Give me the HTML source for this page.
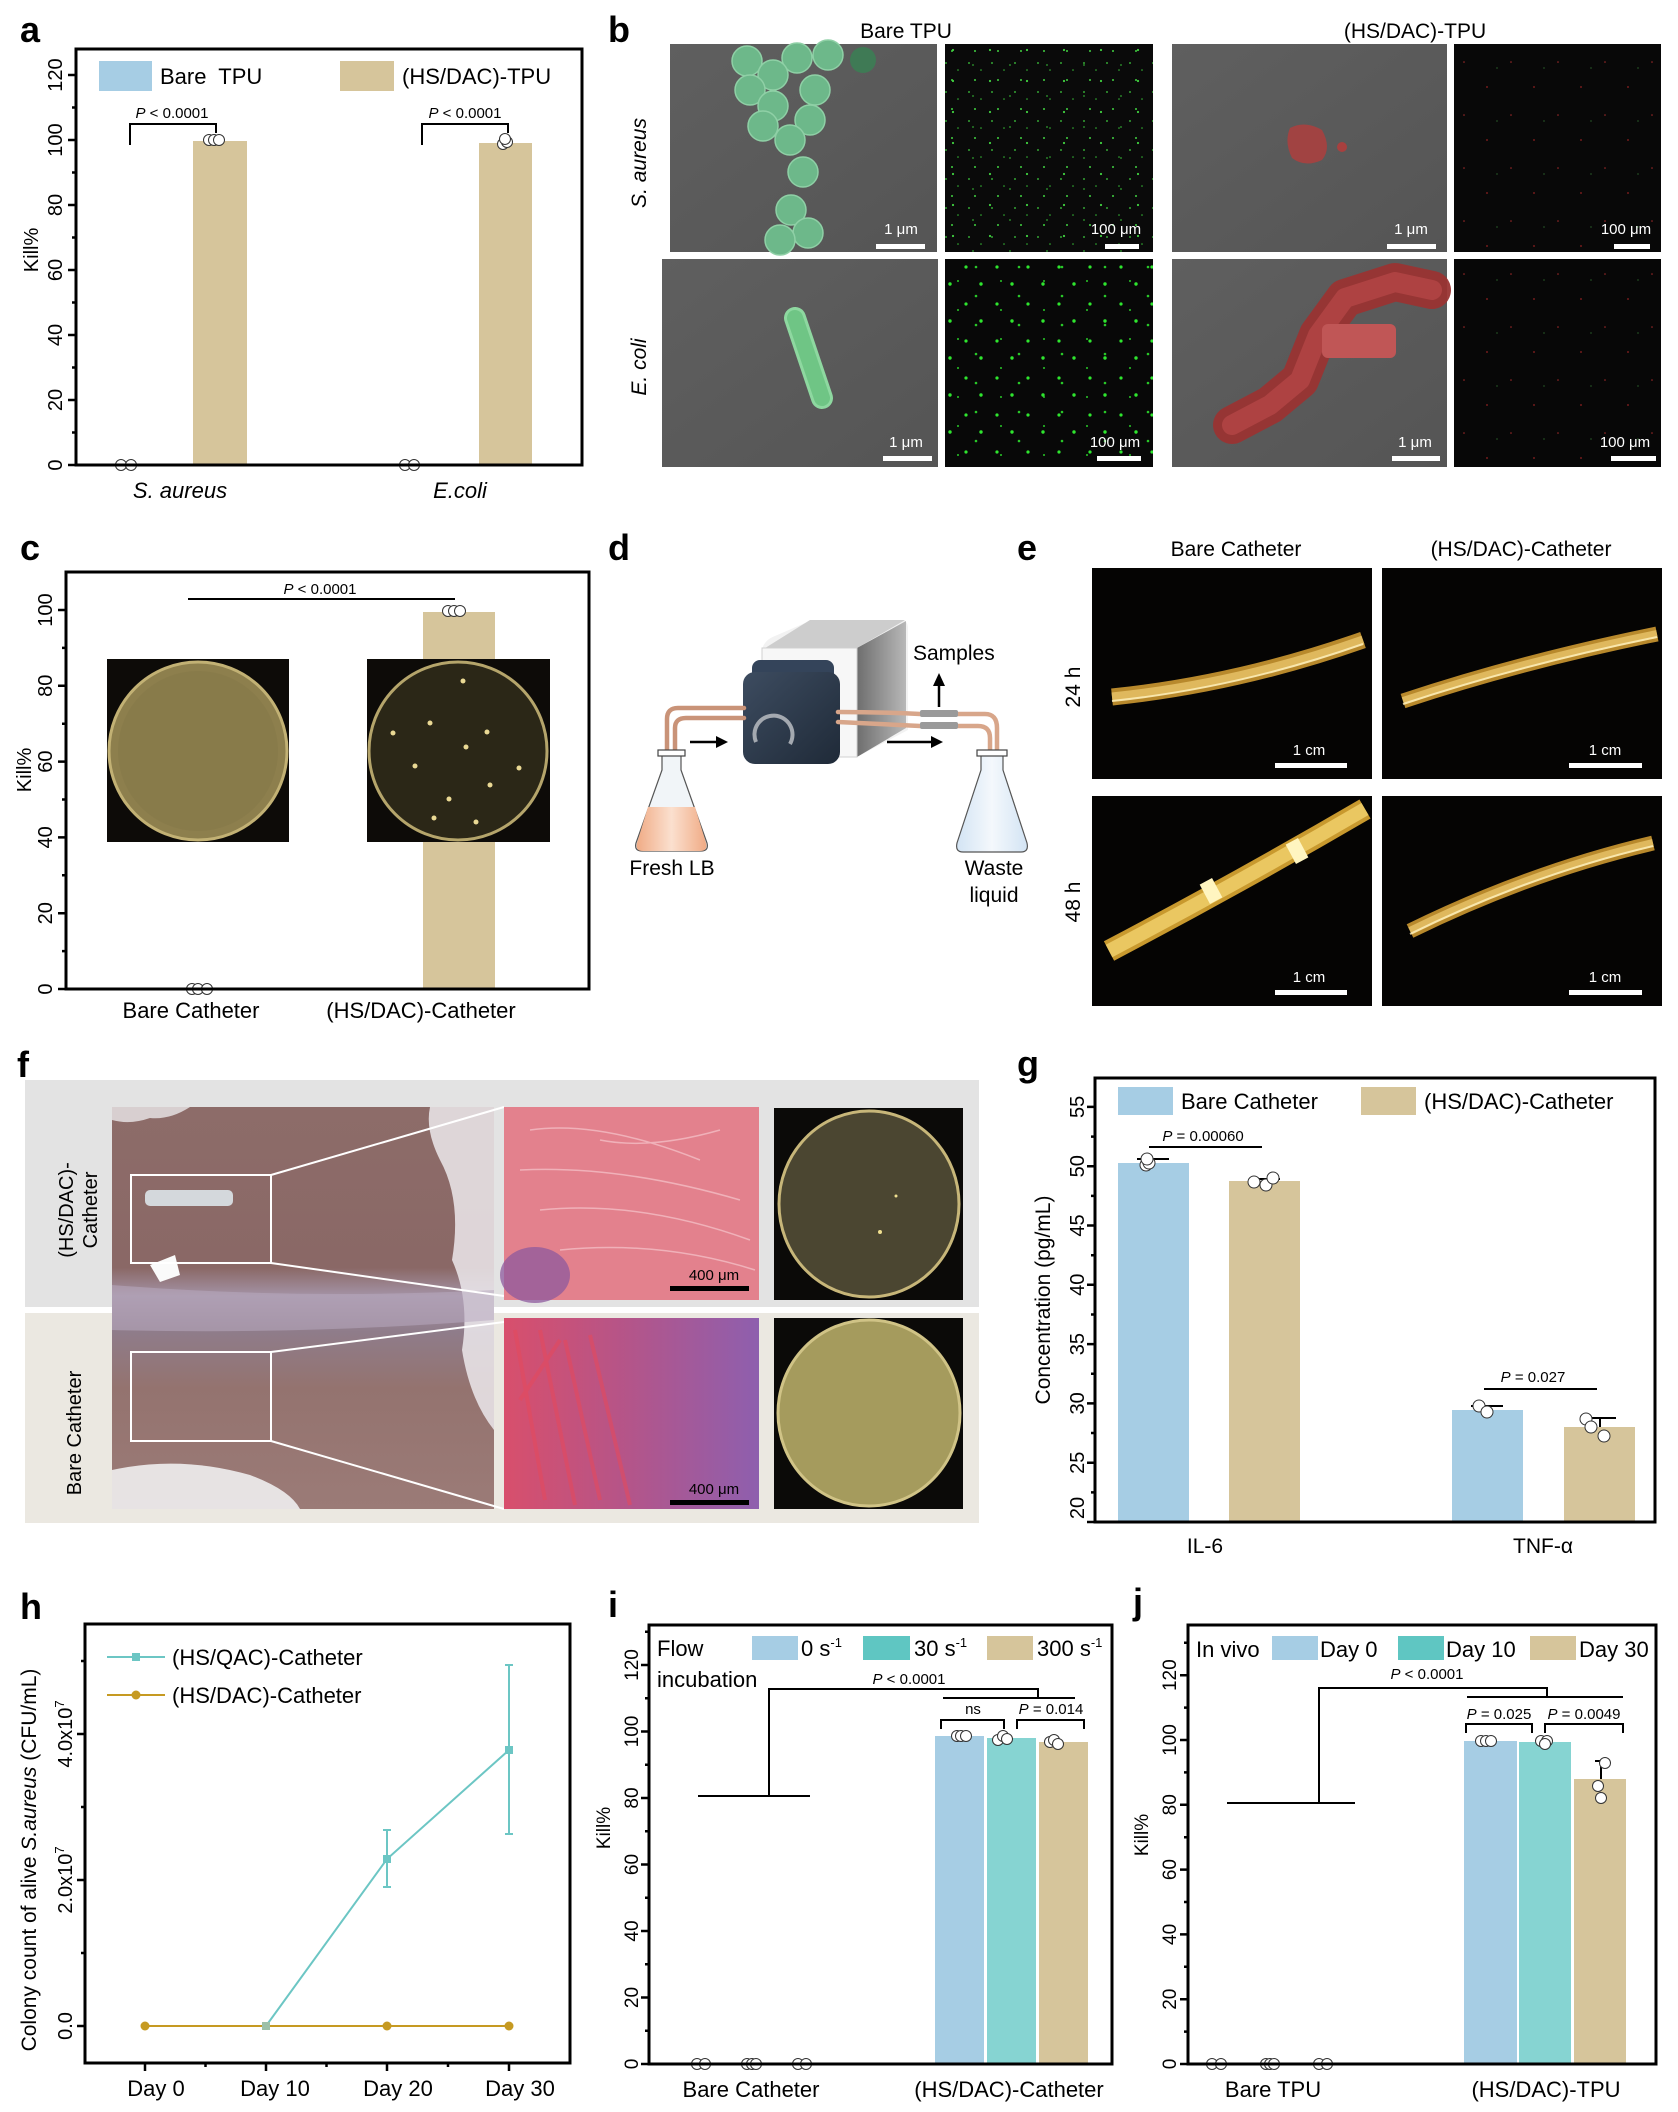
<!DOCTYPE html>
<html><head><meta charset="utf-8"><style>
html,body{margin:0;padding:0;background:#fff;}
svg{display:block;font-family:"Liberation Sans",Arial,sans-serif;}
</style></head><body>
<svg width="1678" height="2112" viewBox="0 0 1678 2112" xmlns="http://www.w3.org/2000/svg">
<defs>
<pattern id="gd1" width="23" height="29" patternUnits="userSpaceOnUse"><circle cx="3" cy="5" r="0.9" fill="#3fd03f"/><circle cx="15" cy="12" r="0.8" fill="#34b834"/><circle cx="9" cy="22" r="1" fill="#3fd03f"/></pattern>
<pattern id="gd1b" width="37" height="31" patternUnits="userSpaceOnUse"><circle cx="11" cy="3" r="0.9" fill="#2fa02f"/><circle cx="28" cy="19" r="1.1" fill="#3fd03f"/></pattern>
<pattern id="gd2" width="31" height="37" patternUnits="userSpaceOnUse"><circle cx="5" cy="8" r="1.6" fill="#2ee62e"/><circle cx="20" cy="25" r="1.7" fill="#2ee62e"/></pattern>
<pattern id="gd2b" width="43" height="29" patternUnits="userSpaceOnUse"><circle cx="30" cy="6" r="1.3" fill="#28c828"/><circle cx="12" cy="20" r="1" fill="#28c828"/></pattern>
<pattern id="rd" width="47" height="53" patternUnits="userSpaceOnUse"><circle cx="7" cy="9" r="0.8" fill="#a02828"/><circle cx="30" cy="34" r="0.9" fill="#902020"/><circle cx="40" cy="15" r="0.6" fill="#3a8a3a"/></pattern>
<linearGradient id="sem" x1="0" y1="0" x2="1" y2="1"><stop offset="0" stop-color="#5f5f5f"/><stop offset="1" stop-color="#555"/></linearGradient>
<linearGradient id="mouse" x1="0" y1="0" x2="0" y2="1"><stop offset="0" stop-color="#8d6c69"/><stop offset="0.4" stop-color="#8a6866"/><stop offset="0.47" stop-color="#a493a6"/><stop offset="0.56" stop-color="#8f7c8a"/><stop offset="0.7" stop-color="#94736f"/><stop offset="1" stop-color="#9b7b77"/></linearGradient>
<linearGradient id="he2" x1="0" y1="0" x2="1" y2="0"><stop offset="0" stop-color="#d84f6c"/><stop offset="0.5" stop-color="#b3558a"/><stop offset="1" stop-color="#8e5fae"/></linearGradient>
<linearGradient id="cube" x1="0" y1="0" x2="1" y2="0"><stop offset="0" stop-color="#6e6e6e"/><stop offset="1" stop-color="#b8b8b8"/></linearGradient>
<linearGradient id="head" x1="0" y1="0" x2="1" y2="1"><stop offset="0" stop-color="#3d4c60"/><stop offset="1" stop-color="#1f2a38"/></linearGradient>
<linearGradient id="lb" x1="0" y1="0" x2="1" y2="0"><stop offset="0" stop-color="#f0ab85"/><stop offset="0.5" stop-color="#fbe0cf"/><stop offset="1" stop-color="#f0ab85"/></linearGradient>
<linearGradient id="wl" x1="0" y1="0" x2="1" y2="0"><stop offset="0" stop-color="#d3e4f4"/><stop offset="0.5" stop-color="#f4f8fc"/><stop offset="1" stop-color="#d3e4f4"/></linearGradient>
</defs>

<g font-weight="bold" font-size="36" fill="#000">
<text x="20" y="42">a</text><text x="608" y="42">b</text>
<text x="20" y="560">c</text><text x="608" y="560">d</text><text x="1017" y="560">e</text>
<text x="17" y="1077">f</text><text x="1017" y="1076">g</text>
<text x="20" y="1619">h</text><text x="608" y="1617">i</text><text x="1133" y="1614">j</text>
</g>

<!-- ============ PANEL A ============ -->
<g>
<rect x="99" y="61" width="53" height="30" fill="#a6cde4"/>
<text x="160" y="84" font-size="22">Bare&#160; TPU</text>
<rect x="340" y="61" width="54" height="30" fill="#d6c59b"/>
<text x="402" y="84" font-size="22">(HS/DAC)-TPU</text>
<rect x="193" y="141" width="54" height="324" fill="#d6c59b"/>
<rect x="479" y="143" width="53" height="322" fill="#d6c59b"/>
<g stroke="#000" stroke-width="2" fill="none">
<path d="M130 145 V124 H216 V133"/><path d="M422 145 V124 H508 V133"/>
</g>
<g font-size="15" text-anchor="middle"><text x="172" y="118"><tspan font-style="italic">P</tspan> &lt; 0.0001</text><text x="465" y="118"><tspan font-style="italic">P</tspan> &lt; 0.0001</text></g>
<g fill="#fff" stroke="#333" stroke-width="1">
<circle cx="209" cy="140" r="5.5"/><circle cx="214" cy="140" r="5.5"/><circle cx="219" cy="140" r="5.5"/>
<circle cx="503" cy="144" r="5.5"/><circle cx="507" cy="142" r="5.5"/><circle cx="505" cy="139" r="5.5"/>
<circle cx="121" cy="465" r="5.5"/><circle cx="131" cy="465" r="5.5"/>
<circle cx="405" cy="465" r="5.5"/><circle cx="414" cy="465" r="5.5"/>
</g>
<rect x="76" y="49" width="506" height="416" fill="none" stroke="#000" stroke-width="3"/>
<g stroke="#000" stroke-width="2.5">
<path d="M68 465H76M68 400H76M68 335H76M68 270H76M68 205H76M68 140H76M68 75H76"/>
<path d="M72 432.5H76M72 367.5H76M72 302.5H76M72 237.5H76M72 172.5H76M72 107.5H76"/>
</g>
<g font-size="20" text-anchor="middle">
<text transform="translate(62,465) rotate(-90)">0</text><text transform="translate(62,400) rotate(-90)">20</text><text transform="translate(62,335) rotate(-90)">40</text><text transform="translate(62,270) rotate(-90)">60</text><text transform="translate(62,205) rotate(-90)">80</text><text transform="translate(62,140) rotate(-90)">100</text><text transform="translate(62,75) rotate(-90)">120</text>
<text transform="translate(38,250) rotate(-90)">Kill%</text>
</g>
<g font-size="22" text-anchor="middle" font-style="italic"><text x="180" y="498">S. aureus</text><text x="460" y="498">E.coli</text></g>
</g>

<!-- ============ PANEL B ============ -->
<g>
<g font-size="21" text-anchor="middle"><text x="906" y="38">Bare TPU</text><text x="1415" y="38">(HS/DAC)-TPU</text></g>
<g font-size="21" text-anchor="middle" font-style="italic"><text transform="translate(646,163) rotate(-90)">S. aureus</text><text transform="translate(646,367) rotate(-90)">E. coli</text></g>
<!-- top row -->
<rect x="670" y="44" width="267" height="208" fill="url(#sem)"/>
<g fill="#6db88a" stroke="#8fd0a6" stroke-width="1.5">
<circle cx="863" cy="60" r="13" fill="#3f7a55" stroke="none"/>
<circle cx="828" cy="55" r="15"/><circle cx="797" cy="58" r="15"/><circle cx="747" cy="61" r="15"/><circle cx="773" cy="75" r="15"/>
<circle cx="750" cy="90" r="15"/><circle cx="815" cy="90" r="15"/><circle cx="773" cy="106" r="15"/><circle cx="810" cy="120" r="15"/>
<circle cx="763" cy="126" r="15"/><circle cx="790" cy="140" r="15"/><circle cx="803" cy="172" r="15"/><circle cx="791" cy="210" r="15"/>
<circle cx="808" cy="233" r="15"/><circle cx="780" cy="240" r="15"/>
</g>
<rect x="945" y="44" width="208" height="208" fill="#0a0a0a"/>
<rect x="945" y="44" width="208" height="208" fill="url(#gd1)"/>
<rect x="945" y="44" width="208" height="208" fill="url(#gd1b)"/>
<rect x="1172" y="44" width="275" height="208" fill="url(#sem)"/>
<path d="M1290 128 Q1305 120 1322 130 Q1332 148 1322 160 Q1305 168 1292 158 Q1284 142 1290 128Z" fill="#a8403f" opacity="0.9"/>
<circle cx="1342" cy="147" r="5" fill="#a8403f"/>
<rect x="1454" y="44" width="207" height="208" fill="#080808"/>
<rect x="1454" y="44" width="207" height="208" fill="url(#rd)"/>
<!-- bottom row -->
<rect x="662" y="259" width="276" height="208" fill="url(#sem)"/>
<path d="M795 318 L822 398" stroke="#8ed8a0" stroke-width="22" stroke-linecap="round"/>
<path d="M795 318 L822 398" stroke="#6fc585" stroke-width="16" stroke-linecap="round"/>
<rect x="945" y="259" width="208" height="208" fill="#080808"/>
<rect x="945" y="259" width="208" height="208" fill="url(#gd2)"/>
<rect x="945" y="259" width="208" height="208" fill="url(#gd2b)"/>
<rect x="1172" y="259" width="275" height="208" fill="url(#sem)"/>
<path d="M1232 425 L1270 405 L1300 380 L1318 335 L1345 298 L1395 282 L1432 290" stroke="#9a3433" stroke-width="38" fill="none" stroke-linecap="round" stroke-linejoin="round" opacity="0.95"/>
<path d="M1232 425 L1270 405 L1300 380 L1318 335 L1345 298 L1395 282 L1432 290" stroke="#b84848" stroke-width="20" fill="none" stroke-linecap="round" stroke-linejoin="round" opacity="0.7"/>
<rect x="1322" y="324" width="74" height="34" rx="6" fill="#c05656"/>
<rect x="1454" y="259" width="207" height="208" fill="#070707"/>
<rect x="1454" y="259" width="207" height="208" fill="url(#rd)"/>
<!-- scale bars -->
<g fill="#fff"><rect x="876" y="244" width="49" height="5"/><rect x="1105" y="244" width="34" height="5"/><rect x="1387" y="244" width="49" height="5"/><rect x="1614" y="244" width="36" height="5"/>
<rect x="883" y="456" width="49" height="5"/><rect x="1097" y="456" width="44" height="5"/><rect x="1392" y="456" width="48" height="5"/><rect x="1611" y="456" width="45" height="5"/></g>
<g fill="#fff" font-size="15" text-anchor="middle">
<text x="901" y="234">1 μm</text><text x="1116" y="234">100 μm</text><text x="1411" y="234">1 μm</text><text x="1626" y="234">100 μm</text>
<text x="906" y="447">1 μm</text><text x="1115" y="447">100 μm</text><text x="1415" y="447">1 μm</text><text x="1625" y="447">100 μm</text>
</g>
</g>

<!-- ============ PANEL C ============ -->
<g>
<rect x="423" y="612" width="72" height="377" fill="#d6c59b"/>
<rect x="107" y="659" width="182" height="183" fill="#0d0b08"/>
<ellipse cx="198" cy="751" rx="89" ry="89" fill="#8d7f4d" stroke="#c2b174" stroke-width="3"/>
<ellipse cx="198" cy="751" rx="80" ry="80" fill="#86784a" opacity="0.6"/>
<rect x="367" y="659" width="183" height="183" fill="#0d0b08"/>
<ellipse cx="458" cy="751" rx="89" ry="89" fill="#2b2717" stroke="#b5a56b" stroke-width="3"/>
<g fill="#ead994"><circle cx="463" cy="681" r="2.5"/><circle cx="430" cy="723" r="2.5"/><circle cx="393" cy="733" r="2.5"/><circle cx="487" cy="732" r="2.5"/><circle cx="466" cy="747" r="2.5"/><circle cx="415" cy="766" r="2.5"/><circle cx="519" cy="768" r="2.5"/><circle cx="490" cy="785" r="2.5"/><circle cx="449" cy="799" r="2.5"/><circle cx="434" cy="818" r="2.5"/><circle cx="476" cy="822" r="2.5"/></g>
<path d="M188 599H455" stroke="#000" stroke-width="2"/>
<text x="320" y="594" font-size="15" text-anchor="middle"><tspan font-style="italic">P</tspan> &lt; 0.0001</text>
<g fill="#fff" stroke="#333" stroke-width="1">
<circle cx="448" cy="611" r="5.5"/><circle cx="454" cy="611" r="5.5"/><circle cx="460" cy="611" r="5.5"/>
<circle cx="192" cy="989" r="5.5"/><circle cx="198" cy="989" r="5.5"/><circle cx="207" cy="989" r="5.5"/>
</g>
<rect x="66" y="572" width="523" height="417" fill="none" stroke="#000" stroke-width="3"/>
<g stroke="#000" stroke-width="2.5">
<path d="M58 989H66M58 913.2H66M58 837.4H66M58 761.6H66M58 685.8H66M58 610H66"/>
<path d="M62 951.1H66M62 875.3H66M62 799.5H66M62 723.7H66M62 647.9H66"/>
</g>
<g font-size="20" text-anchor="middle">
<text transform="translate(52,989) rotate(-90)">0</text><text transform="translate(52,913.2) rotate(-90)">20</text><text transform="translate(52,837.4) rotate(-90)">40</text><text transform="translate(52,761.6) rotate(-90)">60</text><text transform="translate(52,685.8) rotate(-90)">80</text><text transform="translate(52,610) rotate(-90)">100</text>
<text transform="translate(31,770) rotate(-90)">Kill%</text>
</g>
<g font-size="22" text-anchor="middle"><text x="191" y="1018">Bare Catheter</text><text x="421" y="1018">(HS/DAC)-Catheter</text></g>
</g>

<!-- ============ PANEL D ============ -->
<g>
<path d="M762 650 Q764 640 775 636 L812 620 H900 Q908 620 908 628 V730 L857 757 H770 Q762 757 762 750Z" fill="#f2f2f2"/>
<path d="M762 650 L810 620 H905 L857 648Z" fill="#cdcdcd"/>
<path d="M857 648 L906 621 V728 L857 757Z" fill="url(#cube)"/>
<path d="M762 648 H857 V757 H762Z" fill="#f7f7f7" stroke="#d0d0d0" stroke-width="1"/>
<rect x="752" y="660" width="82" height="30" rx="8" fill="#34445a"/>
<rect x="743" y="672" width="97" height="92" rx="12" fill="url(#head)"/>
<path d="M756 742 A19 19 0 1 1 790 744" stroke="#a4a9b0" stroke-width="4" fill="none"/>
<g fill="none" stroke-width="4.5" stroke-linecap="round">
<path d="M667 820 V719 Q667 708 678 708 H744" stroke="#c99378"/>
<path d="M675 820 V728 Q675 718 686 718 H744" stroke="#c99378"/>
<path d="M838 712 Q880 712 920 714 H985 Q997 714 997 728 V778" stroke="#d8a68a"/>
<path d="M838 722 Q880 724 920 726 H978 Q990 726 990 738 V778" stroke="#d8a68a"/>
</g>
<g fill="#9a9a9a"><rect x="920" y="710" width="38" height="7" rx="2"/><rect x="920" y="722" width="38" height="7" rx="2"/></g>
<path d="M662 755 V770 L636 843 Q634 851 642 851 H701 Q709 851 707 843 L681 770 V755Z" fill="#f1f5f8" stroke="#555" stroke-width="1.2"/>
<path d="M648 807 H695 L706 843 Q708 851 700 851 H643 Q635 851 637 843Z" fill="url(#lb)"/>
<rect x="658" y="750" width="27" height="6" fill="#fff" stroke="#444" stroke-width="1.2"/>
<path d="M981 755 V770 L957 843 Q955 852 963 852 H1021 Q1029 852 1027 843 L1003 770 V755Z" fill="url(#wl)" stroke="#555" stroke-width="1.2"/>
<rect x="977" y="750" width="30" height="6" fill="#fff" stroke="#444" stroke-width="1.2"/>
<g stroke="#000" stroke-width="2.5"><path d="M690 742H718"/><path d="M887 742H932"/><path d="M939 707V684"/></g>
<g fill="#000"><path d="M728 742L716 736V748Z"/><path d="M943 742L931 736V748Z"/><path d="M939 673L933 686H945Z"/></g>
<g font-size="21"><text x="913" y="660">Samples</text>
<text x="672" y="875" text-anchor="middle">Fresh LB</text><text x="994" y="875" text-anchor="middle">Waste</text><text x="994" y="902" text-anchor="middle">liquid</text></g>
</g>

<!-- ============ PANEL E ============ -->
<g>
<g font-size="21" text-anchor="middle"><text x="1236" y="556">Bare Catheter</text><text x="1521" y="556">(HS/DAC)-Catheter</text>
<text transform="translate(1080,687) rotate(-90)">24 h</text><text transform="translate(1080,902) rotate(-90)">48 h</text></g>
<rect x="1092" y="568" width="280" height="211" fill="#050403"/>
<rect x="1382" y="568" width="280" height="211" fill="#050403"/>
<rect x="1092" y="796" width="280" height="210" fill="#050403"/>
<rect x="1382" y="796" width="280" height="210" fill="#050403"/>
<g fill="none" stroke-linecap="butt">
<path d="M1112 697 Q1238 684 1363 640" stroke="#b8892c" stroke-width="17"/>
<path d="M1112 697 Q1238 684 1363 640" stroke="#e8c46a" stroke-width="9" opacity="0.8"/>
<path d="M1112 701 Q1238 688 1363 644" stroke="#fff2c0" stroke-width="2" opacity="0.8"/>
<path d="M1403 701 Q1520 662 1657 634" stroke="#b8892c" stroke-width="15"/>
<path d="M1403 701 Q1520 662 1657 634" stroke="#e8c46a" stroke-width="8" opacity="0.8"/>
<path d="M1403 704 Q1520 665 1657 637" stroke="#fff2c0" stroke-width="2" opacity="0.8"/>
<path d="M1109 951 Q1240 882 1365 809" stroke="#c8992e" stroke-width="22"/>
<path d="M1109 951 Q1240 882 1365 809" stroke="#f0cf6a" stroke-width="14" opacity="0.85"/>
<path d="M1410 931 Q1530 872 1653 843" stroke="#b8892c" stroke-width="15"/>
<path d="M1410 931 Q1530 872 1653 843" stroke="#e8c46a" stroke-width="8" opacity="0.8"/>
<path d="M1410 934 Q1530 875 1653 846" stroke="#fff2c0" stroke-width="2" opacity="0.8"/>
</g>
<g fill="#fff5c0"><rect x="1204" y="880" width="14" height="22" transform="rotate(-28 1211 891)"/><rect x="1290" y="840" width="14" height="22" transform="rotate(-28 1297 851)"/></g>
<g fill="#fff"><rect x="1275" y="763" width="72" height="5"/><rect x="1569" y="763" width="73" height="5"/><rect x="1275" y="990" width="72" height="5"/><rect x="1569" y="990" width="73" height="5"/></g>
<g fill="#fff" font-size="15" text-anchor="middle"><text x="1309" y="755">1 cm</text><text x="1605" y="755">1 cm</text><text x="1309" y="982">1 cm</text><text x="1605" y="982">1 cm</text></g>
</g>

<!-- ============ PANEL F ============ -->
<g>
<rect x="25" y="1080" width="954" height="227" fill="#e3e3e3"/>
<rect x="25" y="1313" width="954" height="210" fill="#ebe8e1"/>
<rect x="112" y="1107" width="382" height="402" fill="url(#mouse)"/>
<path d="M430 1107 H494 V1430 Q470 1400 462 1350 Q470 1300 452 1260 Q462 1200 440 1160 Q425 1130 430 1107Z" fill="#ece9ec" opacity="0.85"/>
<path d="M112 1107 H190 Q170 1120 150 1118 Q130 1125 112 1120Z" fill="#ebe8ea" opacity="0.8"/>
<path d="M112 1470 Q180 1455 250 1475 Q290 1490 300 1509 H112Z" fill="#f0eef0" opacity="0.9"/>
<path d="M112 1285 Q300 1300 494 1290 V1320 Q300 1335 112 1330Z" fill="#b8aac0" opacity="0.55"/>
<rect x="145" y="1190" width="88" height="16" rx="5" fill="#d4d8dc"/>
<path d="M150 1265 L175 1255 L180 1275 L160 1282Z" fill="#fafafa"/>
<g fill="none" stroke="#fff" stroke-width="2">
<rect x="131" y="1175" width="140" height="88"/><rect x="131" y="1352" width="140" height="89"/>
<path d="M271 1175 L504 1107M271 1263 L504 1296M271 1352 L504 1322M271 1441 L504 1509"/>
</g>
<rect x="504" y="1107" width="255" height="193" fill="#e3818d"/>
<g fill="none" stroke="#f5c6cc" stroke-width="1.5" opacity="0.7"><path d="M530 1130 Q600 1120 700 1160M520 1170 Q620 1165 740 1200M540 1210 Q640 1200 750 1240M560 1250 Q660 1240 755 1270M600 1140 Q650 1150 720 1130"/></g>
<ellipse cx="535" cy="1275" rx="35" ry="28" fill="#8d5a9e" opacity="0.75"/>
<rect x="504" y="1318" width="255" height="191" fill="url(#he2)"/>
<g fill="none" stroke="#e24a5e" stroke-width="4" opacity="0.6"><path d="M515 1330 L545 1500M540 1330 L575 1505M565 1340 L600 1500M590 1335 L630 1505M520 1400 L560 1340"/></g>
<g fill="#0b0a08"><rect x="774" y="1108" width="189" height="192"/><rect x="774" y="1318" width="189" height="191"/></g>
<ellipse cx="869" cy="1204" rx="90" ry="93" fill="#4b4631" stroke="#c7b679" stroke-width="3"/>
<ellipse cx="869" cy="1413" rx="91" ry="93" fill="#a59b5d" stroke="#d0c386" stroke-width="3"/>
<circle cx="880" cy="1232" r="2" fill="#f0e090"/><circle cx="896" cy="1196" r="1.5" fill="#f0e090"/>
<g fill="#000"><rect x="670" y="1286" width="79" height="5"/><rect x="670" y="1500" width="79" height="5"/></g>
<g fill="#000" font-size="15" text-anchor="middle"><text x="714" y="1280">400 μm</text><text x="714" y="1494">400 μm</text></g>
<g font-size="20" text-anchor="middle"><text transform="translate(73,1210) rotate(-90)">(HS/DAC)-</text><text transform="translate(97,1210) rotate(-90)">Catheter</text><text transform="translate(81,1433) rotate(-90)">Bare Catheter</text></g>
</g>

<!-- ============ PANEL G ============ -->
<g>
<rect x="1118" y="1087" width="55" height="28" fill="#a6cde4"/>
<text x="1181" y="1109" font-size="22">Bare Catheter</text>
<rect x="1361" y="1087" width="55" height="28" fill="#d6c59b"/>
<text x="1424" y="1109" font-size="22">(HS/DAC)-Catheter</text>
<rect x="1118" y="1163" width="71" height="359" fill="#a6cde4"/>
<rect x="1229" y="1181" width="71" height="341" fill="#d6c59b"/>
<rect x="1452" y="1410" width="71" height="112" fill="#a6cde4"/>
<rect x="1564" y="1427" width="71" height="95" fill="#d6c59b"/>
<g stroke="#000" stroke-width="2" fill="none">
<path d="M1153 1163V1159M1137 1159H1169"/><path d="M1264 1181V1179M1250 1179H1280"/>
<path d="M1487 1410V1406M1471 1406H1503"/><path d="M1600 1427V1418M1586 1418H1616"/>
<path d="M1149 1147H1262"/><path d="M1484 1389H1597"/>
</g>
<g font-size="15" text-anchor="middle"><text x="1203" y="1141"><tspan font-style="italic">P</tspan> = 0.00060</text><text x="1533" y="1382"><tspan font-style="italic">P</tspan> = 0.027</text></g>
<g fill="#fff" stroke="#333" stroke-width="1">
<circle cx="1146" cy="1165" r="6"/><circle cx="1149" cy="1163" r="6"/><circle cx="1147" cy="1159" r="6"/>
<circle cx="1254" cy="1182" r="6"/><circle cx="1266" cy="1185" r="6"/><circle cx="1273" cy="1178" r="6"/>
<circle cx="1479" cy="1406" r="6"/><circle cx="1487" cy="1412" r="6"/>
<circle cx="1586" cy="1419" r="6"/><circle cx="1591" cy="1427" r="6"/><circle cx="1604" cy="1436" r="6"/>
</g>
<rect x="1095" y="1078" width="560" height="444" fill="none" stroke="#000" stroke-width="3"/>
<g stroke="#000" stroke-width="2.5">
<path d="M1087 1522H1095M1087 1462.7H1095M1087 1403.4H1095M1087 1344.1H1095M1087 1284.8H1095M1087 1225.5H1095M1087 1166.2H1095M1087 1106.9H1095"/>
<path d="M1091 1492.4H1095M1091 1433H1095M1091 1373.8H1095M1091 1314.5H1095M1091 1255.2H1095M1091 1195.9H1095M1091 1136.6H1095"/>
</g>
<g font-size="20" text-anchor="middle">
<text transform="translate(1084,1508) rotate(-90)">20</text><text transform="translate(1084,1462.7) rotate(-90)">25</text><text transform="translate(1084,1403.4) rotate(-90)">30</text><text transform="translate(1084,1344.1) rotate(-90)">35</text><text transform="translate(1084,1284.8) rotate(-90)">40</text><text transform="translate(1084,1225.5) rotate(-90)">45</text><text transform="translate(1084,1166.2) rotate(-90)">50</text><text transform="translate(1084,1106.9) rotate(-90)">55</text>
<text transform="translate(1050,1300) rotate(-90)" font-size="21">Concentration (pg/mL)</text>
</g>
<g font-size="21" text-anchor="middle"><text x="1205" y="1553">IL-6</text><text x="1543" y="1553">TNF-α</text></g>
</g>

<!-- ============ PANEL H ============ -->
<g>
<rect x="85" y="1624" width="485" height="439" fill="none" stroke="#000" stroke-width="3"/>
<g stroke="#000" stroke-width="2.5">
<path d="M77 2026H85M77 1880H85M77 1734H85"/><path d="M81 1953H85M81 1807H85M81 1661H85"/>
<path d="M145 2063V2071M266 2063V2071M387 2063V2071M509 2063V2071"/>
<path d="M205.5 2063V2067M326.5 2063V2067M448 2063V2067"/>
</g>
<g font-size="20" text-anchor="middle">
<text transform="translate(72,2026) rotate(-90)">0.0</text>
<text transform="translate(72,1880) rotate(-90)">2.0x10<tspan font-size="13" dy="-8">7</tspan></text>
<text transform="translate(72,1734) rotate(-90)">4.0x10<tspan font-size="13" dy="-8">7</tspan></text>
<text transform="translate(36,1860) rotate(-90)" font-size="21">Colony count of alive <tspan font-style="italic">S.aureus</tspan> (CFU/mL)</text>
</g>
<g stroke="#6cc6c4" stroke-width="2" fill="none">
<path d="M145 2026L266 2026L387 1859L509 1750"/>
<path d="M387 1830V1887M383 1830H391M383 1887H391"/>
<path d="M509 1665V1834M505 1665H513M505 1834H513"/>
<path d="M107 1657H165"/>
</g>
<g fill="#6cc6c4"><rect x="383" y="1855" width="8" height="8"/><rect x="505" y="1746" width="8" height="8"/><rect x="262" y="2022" width="8" height="8"/><rect x="132" y="1653" width="8" height="8"/></g>
<g stroke="#c69a22" stroke-width="2"><path d="M145 2026H509"/><path d="M107 1695H165"/></g>
<g fill="#c69a22"><circle cx="145" cy="2026" r="4.5"/><circle cx="387" cy="2026" r="4.5"/><circle cx="509" cy="2026" r="4.5"/><circle cx="136" cy="1695" r="4.5"/></g>
<rect x="262" y="2022" width="8" height="8" fill="#9cc0a8"/>
<g font-size="22"><text x="172" y="1665">(HS/QAC)-Catheter</text><text x="172" y="1703">(HS/DAC)-Catheter</text></g>
<g font-size="22" text-anchor="middle"><text x="156" y="2096">Day 0</text><text x="275" y="2096">Day 10</text><text x="398" y="2096">Day 20</text><text x="520" y="2096">Day 30</text></g>
</g>

<!-- ============ PANEL I ============ -->
<g>
<text x="657" y="1656" font-size="22">Flow</text><text x="657" y="1687" font-size="22">incubation</text>
<rect x="752" y="1636" width="46" height="24" fill="#a6cde4"/><text x="801" y="1656" font-size="22">0 s<tspan font-size="13" dy="-9">-1</tspan></text>
<rect x="863" y="1636" width="47" height="24" fill="#5fc6c2"/><text x="914" y="1656" font-size="22">30 s<tspan font-size="13" dy="-9">-1</tspan></text>
<rect x="987" y="1636" width="46" height="24" fill="#d6c59b"/><text x="1037" y="1656" font-size="22">300 s<tspan font-size="13" dy="-9">-1</tspan></text>
<rect x="935" y="1736" width="49" height="328" fill="#a6cde4"/>
<rect x="987" y="1738" width="49" height="326" fill="#86d4d2"/>
<rect x="1039" y="1742" width="49" height="322" fill="#d6c59b"/>
<g stroke="#000" stroke-width="2" fill="none">
<path d="M698 1796H810M769 1796V1689H1038V1698M943 1698H1075"/>
<path d="M941 1729V1720H1004V1729"/><path d="M1017 1729V1720H1084V1729"/>
</g>
<g font-size="15" text-anchor="middle"><text x="909" y="1684"><tspan font-style="italic">P</tspan> &lt; 0.0001</text><text x="973" y="1714">ns</text><text x="1051" y="1714"><tspan font-style="italic">P</tspan> = 0.014</text></g>
<g fill="#fff" stroke="#333" stroke-width="1">
<circle cx="957" cy="1736" r="5.5"/><circle cx="961" cy="1736" r="5.5"/><circle cx="966" cy="1736" r="5.5"/>
<circle cx="998" cy="1740" r="5.5"/><circle cx="1003" cy="1736" r="5.5"/><circle cx="1007" cy="1739" r="5.5"/>
<circle cx="1050" cy="1742" r="5.5"/><circle cx="1054" cy="1740" r="5.5"/><circle cx="1058" cy="1744" r="5.5"/>
<circle cx="697" cy="2064" r="5.5"/><circle cx="705" cy="2064" r="5.5"/><circle cx="747" cy="2064" r="5.5"/><circle cx="752" cy="2064" r="5.5"/><circle cx="756" cy="2064" r="5.5"/><circle cx="798" cy="2064" r="5.5"/><circle cx="806" cy="2064" r="5.5"/>
</g>
<rect x="649" y="1625" width="463" height="439" fill="none" stroke="#000" stroke-width="3"/>
<g stroke="#000" stroke-width="2.5">
<path d="M641 2064H649M641 1997.5H649M641 1931H649M641 1864.5H649M641 1798H649M641 1731.5H649M641 1665H649"/>
<path d="M645 2030.75H649M645 1964.25H649M645 1897.75H649M645 1831.25H649M645 1764.75H649M645 1698.25H649M645 1631.75H649"/>
</g>
<g font-size="19" text-anchor="middle">
<text transform="translate(638,2064) rotate(-90)">0</text><text transform="translate(638,1997.5) rotate(-90)">20</text><text transform="translate(638,1931) rotate(-90)">40</text><text transform="translate(638,1864.5) rotate(-90)">60</text><text transform="translate(638,1798) rotate(-90)">80</text><text transform="translate(638,1731.5) rotate(-90)">100</text><text transform="translate(638,1665) rotate(-90)">120</text>
<text transform="translate(610,1828) rotate(-90)">Kill%</text>
</g>
<g font-size="22" text-anchor="middle"><text x="751" y="2097">Bare Catheter</text><text x="1009" y="2097">(HS/DAC)-Catheter</text></g>
</g>

<!-- ============ PANEL J ============ -->
<g>
<text x="1196" y="1657" font-size="22">In vivo</text>
<rect x="1272" y="1636" width="46" height="24" fill="#a6cde4"/><text x="1320" y="1657" font-size="22">Day 0</text>
<rect x="1398" y="1636" width="46" height="24" fill="#5fc6c2"/><text x="1446" y="1657" font-size="22">Day 10</text>
<rect x="1530" y="1636" width="46" height="24" fill="#d6c59b"/><text x="1579" y="1657" font-size="22">Day 30</text>
<rect x="1464" y="1741" width="53" height="323" fill="#a6cde4"/>
<rect x="1519" y="1742" width="52" height="322" fill="#86d4d2"/>
<rect x="1574" y="1779" width="52" height="285" fill="#d6c59b"/>
<g stroke="#000" stroke-width="2" fill="none">
<path d="M1227 1803H1355M1319 1803V1688H1547V1697M1467 1697H1623"/>
<path d="M1466 1733V1724H1532V1733"/><path d="M1545 1733V1724H1623V1733"/>
<path d="M1601 1779V1761M1595 1761H1607"/>
</g>
<g font-size="15" text-anchor="middle"><text x="1427" y="1679"><tspan font-style="italic">P</tspan> &lt; 0.0001</text><text x="1499" y="1719"><tspan font-style="italic">P</tspan> = 0.025</text><text x="1584" y="1719"><tspan font-style="italic">P</tspan> = 0.0049</text></g>
<g fill="#fff" stroke="#333" stroke-width="1">
<circle cx="1481" cy="1741" r="5.5"/><circle cx="1486" cy="1741" r="5.5"/><circle cx="1491" cy="1741" r="5.5"/>
<circle cx="1541" cy="1741" r="5.5"/><circle cx="1547" cy="1741" r="5.5"/><circle cx="1545" cy="1744" r="5.5"/>
<circle cx="1605" cy="1763" r="5.5"/><circle cx="1598" cy="1786" r="5.5"/><circle cx="1601" cy="1798" r="5.5"/>
<circle cx="1212" cy="2064" r="5.5"/><circle cx="1221" cy="2064" r="5.5"/><circle cx="1266" cy="2064" r="5.5"/><circle cx="1270" cy="2064" r="5.5"/><circle cx="1274" cy="2064" r="5.5"/><circle cx="1319" cy="2064" r="5.5"/><circle cx="1327" cy="2064" r="5.5"/>
</g>
<rect x="1188" y="1625" width="468" height="439" fill="none" stroke="#000" stroke-width="3"/>
<g stroke="#000" stroke-width="2.5">
<path d="M1180 2064H1188M1180 1999.2H1188M1180 1934.4H1188M1180 1869.6H1188M1180 1804.8H1188M1180 1740H1188M1180 1675.2H1188"/>
<path d="M1184 2031.6H1188M1184 1966.8H1188M1184 1902H1188M1184 1837.2H1188M1184 1772.4H1188M1184 1707.6H1188M1184 1642.8H1188"/>
</g>
<g font-size="19" text-anchor="middle">
<text transform="translate(1176,2064) rotate(-90)">0</text><text transform="translate(1176,1999.2) rotate(-90)">20</text><text transform="translate(1176,1934.4) rotate(-90)">40</text><text transform="translate(1176,1869.6) rotate(-90)">60</text><text transform="translate(1176,1804.8) rotate(-90)">80</text><text transform="translate(1176,1740) rotate(-90)">100</text><text transform="translate(1176,1675.2) rotate(-90)">120</text>
<text transform="translate(1148,1835) rotate(-90)">Kill%</text>
</g>
<g font-size="22" text-anchor="middle"><text x="1273" y="2097">Bare TPU</text><text x="1546" y="2097">(HS/DAC)-TPU</text></g>
</g>
</svg>
</body></html>
